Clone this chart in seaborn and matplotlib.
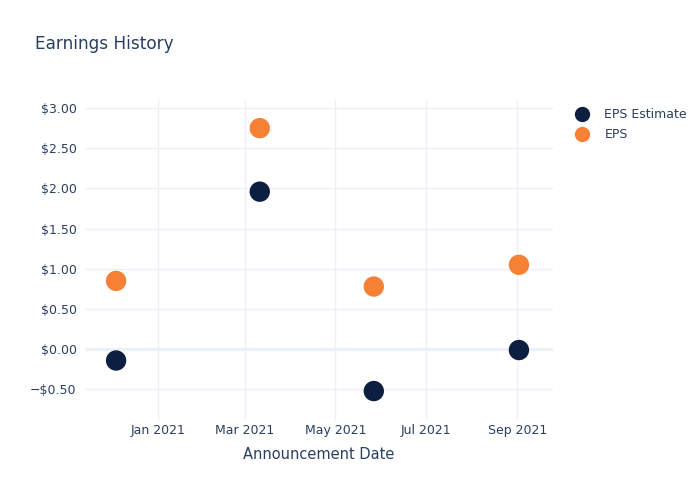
import matplotlib
matplotlib.use("Agg")
import matplotlib.pyplot as plt
import matplotlib.dates as mdates
import matplotlib.ticker as mticker
import seaborn as sns
import pandas as pd
from matplotlib.lines import Line2D

dates = ["2020-12-04", "2021-03-11", "2021-05-27", "2021-09-02"]
eps_estimate = [-0.14, 1.96, -0.52, -0.01]
eps_actual = [0.85, 2.75, 0.78, 1.05]
series_names = ["EPS Estimate", "EPS"]
colors = ["#0c1f40", "#f68135"]

df = pd.DataFrame({
    "date": pd.to_datetime(dates * 2),
    "value": eps_estimate + eps_actual,
    "series": [series_names[0]] * len(dates) + [series_names[1]] * len(dates),
})

sns.set_style("white")
plt.rcParams["font.family"] = ["DejaVu Sans"]
text_color = "#2a3f5f"
grid_color = "#ebf0f8"

fig = plt.figure(figsize=(7, 5), dpi=100)
ax = fig.add_axes([85 / 700, 1 - 420 / 500, (553 - 85) / 700, (420 - 100) / 500])

sns.scatterplot(data=df, x="date", y="value", hue="series", palette=colors,
                hue_order=series_names, s=215, edgecolor="none", ax=ax,
                legend=False, zorder=3)

ax.set_xlim(pd.Timestamp("2020-11-13"), pd.Timestamp("2021-09-25"))
ax.set_ylim(-0.88, 3.10)
ax.xaxis.set_major_locator(mdates.MonthLocator(bymonth=[1, 3, 5, 7, 9]))
ax.xaxis.set_major_formatter(mdates.DateFormatter("%b %Y"))
ax.yaxis.set_major_locator(mticker.MultipleLocator(0.5))
ax.yaxis.set_major_formatter(mticker.FuncFormatter(
    lambda v, p: ("\u2212$%.2f" % abs(v)) if v < -1e-9 else "$%.2f" % abs(v)))

ax.grid(True, color=grid_color, linewidth=1, zorder=0)
ax.axhline(0, color=grid_color, linewidth=2, zorder=1)
for sp in ax.spines.values():
    sp.set_visible(False)
ax.tick_params(axis="both", length=0, labelsize=9, colors=text_color)
ax.tick_params(axis="y", pad=6)
ax.tick_params(axis="x", pad=3)
ax.set_xlabel("Announcement Date", fontsize=10.5, color=text_color, labelpad=7)
ax.set_ylabel("")

fig.text(35 / 700, 1 - 44 / 500, "Earnings History", fontsize=12.2,
         color=text_color, va="center", ha="left")

handles = [Line2D([0], [0], marker="o", linestyle="", markersize=11,
                  markerfacecolor=c, markeredgecolor="none") for c in colors]
fig.legend(handles, series_names, loc="upper left",
           bbox_to_anchor=(568 / 700, 1 - 103 / 500), frameon=False,
           fontsize=9, labelcolor=text_color, handletextpad=1.0,
           labelspacing=0.55, borderaxespad=0, handlelength=1.5)

fig.savefig("out.png", dpi=100)
